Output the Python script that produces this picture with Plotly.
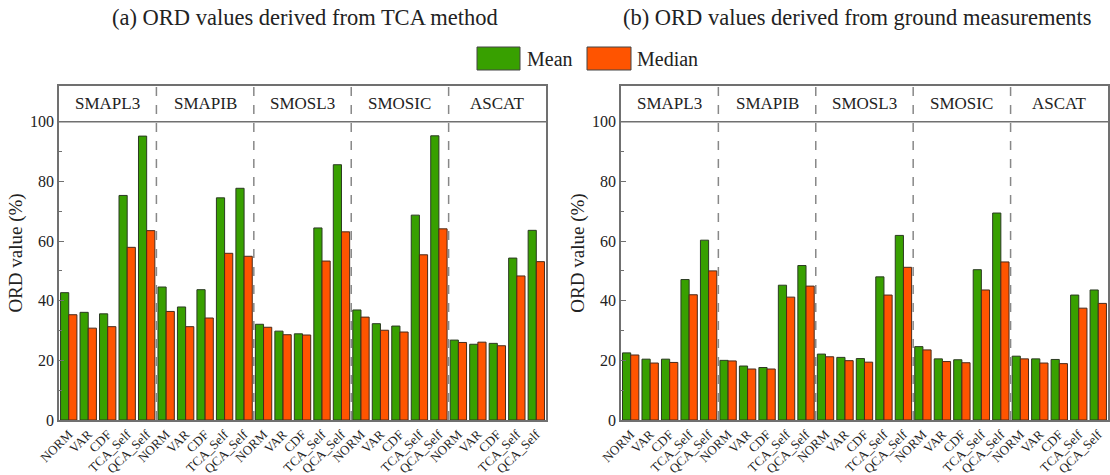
import plotly.graph_objects as go
from plotly.subplots import make_subplots

# Products and bias-correction methods on the x axis
products = ["SMAPL3", "SMAPIB", "SMOSL3", "SMOSIC", "ASCAT"]
methods = ["NORM", "VAR", "CDF", "TCA_Self", "QCA_Self"]

# (a) ORD values derived from TCA method (%), ordered product by product
tca_mean = [42.7, 36.1, 35.6, 75.3, 95.2,
            44.6, 37.9, 43.7, 74.5, 77.7,
            32.1, 29.8, 28.9, 64.4, 85.6,
            36.9, 32.3, 31.5, 68.7, 95.3,
            26.8, 25.4, 25.7, 54.3, 63.6]
tca_median = [35.3, 30.8, 31.3, 57.9, 63.5,
              36.4, 31.3, 34.2, 55.9, 54.9,
              31.1, 28.6, 28.5, 53.3, 63.1,
              34.5, 30.1, 29.5, 55.4, 64.1,
              26.0, 26.1, 24.9, 48.3, 53.1]

# (b) ORD values derived from ground measurements (%)
gnd_mean = [22.5, 20.4, 20.4, 47.1, 60.3,
            20.0, 18.1, 17.6, 45.2, 51.8,
            22.1, 21.0, 20.6, 48.0, 61.9,
            24.6, 20.5, 20.2, 50.4, 69.4,
            21.4, 20.5, 20.3, 41.9, 43.6]
gnd_median = [21.8, 19.1, 19.3, 42.0, 50.0,
              19.8, 17.1, 17.1, 41.2, 44.9,
              21.2, 19.9, 19.4, 41.9, 51.2,
              23.5, 19.6, 19.2, 43.6, 53.0,
              20.5, 19.1, 18.9, 37.5, 39.1]

panel_titles = ["(a) ORD values derived from TCA method",
                "(b) ORD values derived from ground measurements"]

GREEN = "#38a000"
ORANGE = "#ff5400"
FRAME = "#707070"
FONT = "Liberation Serif"
W, H = 1110, 475
ML, MR, MT, MB = 59, 2, 86, 55
Y_TOP = 112

n_cat = len(products) * len(methods)
xs = list(range(n_cat))
tick_text = [m for _ in products for m in methods]

fig = make_subplots(rows=1, cols=2, horizontal_spacing=0.0714)

for col, (mean_v, med_v) in enumerate([(tca_mean, tca_median),
                                        (gnd_mean, gnd_median)], start=1):
    fig.add_trace(go.Bar(x=xs, y=mean_v, name="Mean", showlegend=False,
                         marker=dict(color=GREEN, line=dict(color="#2b3a22", width=1))),
                  row=1, col=col)
    fig.add_trace(go.Bar(x=xs, y=med_v, name="Median", showlegend=False,
                         marker=dict(color=ORANGE, line=dict(color="#4a2a1a", width=1))),
                  row=1, col=col)

axis_font = dict(family=FONT, size=16, color="#222")
for col in (1, 2):
    fig.update_xaxes(row=1, col=col, range=[-0.5, n_cat - 0.5], automargin=False,
                     tickmode="array", tickvals=xs, ticktext=tick_text,
                     tickangle=-45, tickfont=dict(family=FONT, size=13, color="#222"),
                     showgrid=False, zeroline=False, showline=True, linecolor=FRAME,
                     linewidth=1.5, mirror=True, ticks="", ticklabelstandoff=0)
    fig.update_yaxes(row=1, col=col, range=[0, Y_TOP], tickvals=[0, 20, 40, 60, 80, 100],
                     ticks="inside", ticklen=5, tickcolor=FRAME, automargin=False,
                     minor=dict(tickvals=[10, 30, 50, 70, 90], ticks="inside",
                                ticklen=3, tickcolor=FRAME),
                     tickfont=axis_font, showgrid=False, zeroline=False,
                     showline=True, linecolor=FRAME, linewidth=1.5, mirror=True,
                     title=dict(text="ORD value (%)",
                                font=dict(family=FONT, size=19, color="#222"),
                                standoff=2))

shapes = []
annotations = []
for xref, yref in (("x", "y"), ("x2", "y2")):
    # header band separator
    shapes.append(dict(type="line", xref=xref, yref=yref, x0=-0.5, x1=n_cat - 0.5,
                       y0=100, y1=100, line=dict(color=FRAME, width=1.5)))
    for i in range(1, len(products)):
        xb = i * len(methods) - 0.5
        shapes.append(dict(type="line", xref=xref, yref=yref, x0=xb, x1=xb,
                           y0=0, y1=Y_TOP, line=dict(color="#888", width=1.5, dash="dash")))
    for i, p in enumerate(products):
        annotations.append(dict(xref=xref, yref=yref, x=i * len(methods) + 2, y=106,
                                text=p, showarrow=False,
                                font=dict(family=FONT, size=17, color="#222")))

plot_w = W - ML - MR
plot_h = H - MT - MB


def px_x(p):
    return (p - ML) / plot_w


def px_y(p):
    return (H - MB - p) / plot_h


# panel titles
for title, cx in zip(panel_titles, (305, 857)):
    annotations.append(dict(xref="paper", yref="paper", x=px_x(cx), y=px_y(18),
                            text=title, showarrow=False, xanchor="center", yanchor="middle",
                            font=dict(family=FONT, size=22.5, color="#222")))

# shared legend
for label, color, x0, x1, tx in (("Mean", GREEN, 477, 520, 525),
                                 ("Median", ORANGE, 587, 631, 635)):
    shapes.append(dict(type="rect", xref="paper", yref="paper",
                       x0=px_x(x0), x1=px_x(x1), y0=px_y(70), y1=px_y(47),
                       fillcolor=color, line=dict(color="#444", width=1)))
    annotations.append(dict(xref="paper", yref="paper", x=px_x(tx), y=px_y(59),
                            text=label, showarrow=False, xanchor="left", yanchor="middle",
                            font=dict(family=FONT, size=20, color="#222")))

fig.update_layout(width=W, height=H, margin=dict(l=ML, r=MR, t=MT, b=MB),
                  barmode="group", bargap=0.16, bargroupgap=0,
                  plot_bgcolor="white", paper_bgcolor="white",
                  shapes=shapes, annotations=annotations, showlegend=False)

fig.write_html("out.html")
